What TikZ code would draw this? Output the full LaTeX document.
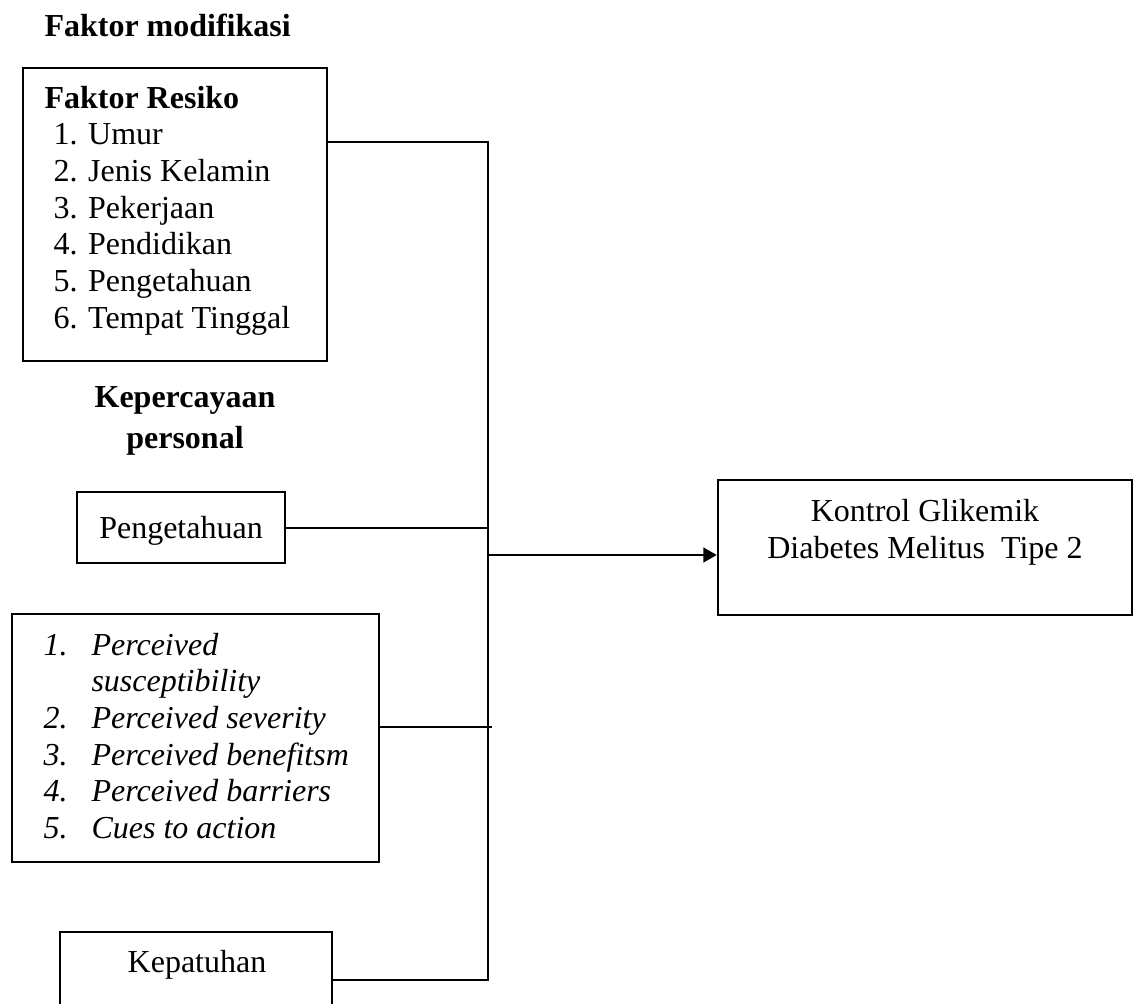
\documentclass[tikz,border=0pt]{standalone}
\usepackage{fontspec}
\setmainfont{Liberation Serif}
\usetikzlibrary{arrows.meta}

\tikzset{
  kotak/.style={draw, line width=0.9pt, inner sep=0pt},
  teks/.style={inner sep=0pt, font=\fontsize{12}{13.75}\selectfont},
  tebal/.style={teks, font=\fontsize{12}{13.75}\selectfont\bfseries},
  garis/.style={line width=0.75pt},
}

\begin{document}
\begin{tikzpicture}[x=0.375pt, y=-0.375pt]
  \useasboundingbox (0,0) rectangle (1134,1003);
  \clip (0,0) rectangle (1134,1003);

  % Faktor modifikasi
  \node[tebal, anchor=base west] (judul) at (44,36) {Faktor modifikasi};
  \node[kotak, minimum width=114pt, minimum height=109.875pt] (resiko) at (175,214.5) {};
  \node[tebal, anchor=base west] (resikojudul) at (44,108) {Faktor Resiko};
  \node[teks, anchor=base west, align=left] (resikoisi) at (53,328.3)
    {1. Umur\\ 2. Jenis Kelamin\\ 3. Pekerjaan\\ 4. Pendidikan\\ 5. Pengetahuan\\ 6. Tempat Tinggal};

  % Kepercayaan personal
  \node[tebal, anchor=base, align=center] (percaya) at (185,448) {Kepercayaan\\[1.6pt] personal};
  \node[kotak, minimum width=78pt, minimum height=26.625pt] (peng) at (181,527.5) {};
  \node[teks, anchor=base] (pengteks) at (181,538) {Pengetahuan};

  \node[kotak, minimum width=137.625pt, minimum height=93pt] (persepsi) at (195.5,738) {};
  \node[teks, anchor=base west, font=\fontsize{12}{13.75}\selectfont\itshape] (persepsiisi) at (43,655)
    {\begin{tabular}[t]{@{}p{18pt}@{}l@{}}
      1. & Perceived\\
         & susceptibility\\
      2. & Perceived severity\\
      3. & Perceived benefitsm\\
      4. & Perceived barriers\\
      5. & Cues to action
    \end{tabular}};

  \node[kotak, minimum width=102pt, minimum height=36pt] (patuh) at (196,980) {};
  \node[teks, anchor=base] (patuhteks) at (197,972) {Kepatuhan};

  % Kontrol glikemik
  \node[kotak, minimum width=155.25pt, minimum height=50.625pt] (kontrol) at (925,547.5) {};
  \node[teks, anchor=base, align=center] (kontrolteks) at (925,558)
    {Kontrol Glikemik\\ Diabetes Melitus\ \ Tipe 2};

  % Garis penghubung
  \coordinate (busatas) at (488,142);
  \coordinate (busbawah) at (488,980);
  \coordinate (cabang) at (492,727);
  \coordinate (panah) at (488,555);
  \draw[garis] (resiko.east |- busatas) -- (busatas) -- (busbawah) -- (patuh.east);
  \draw[garis] (peng.east) -- (peng.east -| busatas);
  \draw[garis] (persepsi.east |- cabang) -- (cabang);
  \draw[garis, -{Triangle[length=5pt, width=5.5pt]}] (panah) -- (kontrol.west |- panah);
\end{tikzpicture}
\end{document}
